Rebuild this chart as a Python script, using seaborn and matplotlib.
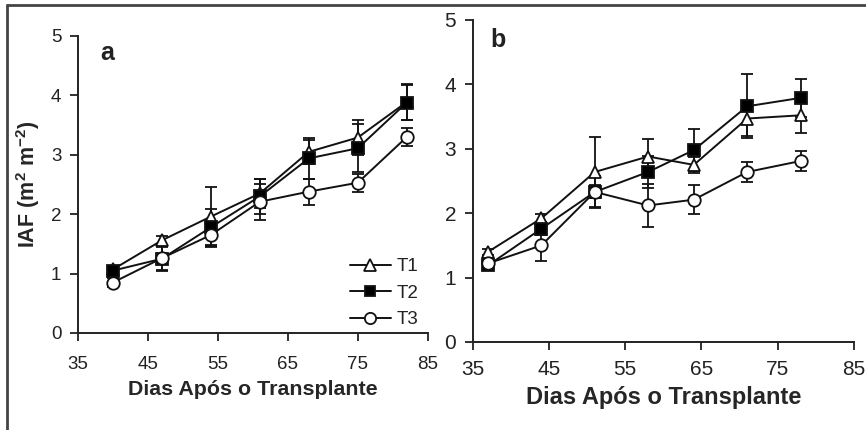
import numpy as np
import pandas as pd
import seaborn as sns
import matplotlib.pyplot as plt
from matplotlib.lines import Line2D

# dados
dias_a = [40, 47, 54, 61, 68, 75, 82]
t1_a = [1.07, 1.56, 1.96, 2.35, 3.05, 3.29, 3.89]
t2_a = [1.05, 1.25, 1.78, 2.30, 2.94, 3.11, 3.88]
t3_a = [0.85, 1.26, 1.65, 2.21, 2.38, 2.53, 3.30]
e1_a = [0.05, 0.08, 0.50, 0.25, 0.20, 0.30, 0.30]
e2_a = [0.08, 0.20, 0.30, 0.30, 0.35, 0.40, 0.30]
e3_a = [0.08, 0.20, 0.20, 0.30, 0.22, 0.15, 0.15]

dias_b = [37, 44, 51, 58, 64, 71, 78]
t1_b = [1.40, 1.92, 2.64, 2.88, 2.75, 3.47, 3.52]
t2_b = [1.19, 1.76, 2.33, 2.64, 2.98, 3.66, 3.79]
t3_b = [1.22, 1.50, 2.33, 2.12, 2.21, 2.64, 2.81]
e1_b = [0.05, 0.06, 0.55, 0.27, 0.13, 0.27, 0.28]
e2_b = [0.06, 0.10, 0.25, 0.25, 0.32, 0.50, 0.30]
e3_b = [0.05, 0.24, 0.10, 0.33, 0.22, 0.16, 0.15]

tratamentos = ["T1", "T2", "T3"]
marcadores = {"T1": "^", "T2": "s", "T3": "o"}
preench = {"T1": "white", "T2": "black", "T3": "white"}

sns.set_style("ticks")
plt.rcParams['font.family'] = ['Liberation Sans', 'DejaVu Sans']
plt.rcParams['mathtext.fontset'] = 'custom'
plt.rcParams['mathtext.rm'] = 'Liberation Sans'
plt.rcParams['mathtext.bf'] = 'Liberation Sans:bold'
plt.rcParams['text.color'] = '#222222'
plt.rcParams['axes.edgecolor'] = '#222222'
plt.rcParams['xtick.color'] = '#222222'
plt.rcParams['ytick.color'] = '#222222'

fig = plt.figure(figsize=(8.66, 4.3), dpi=100)
ax_a = fig.add_axes([0.090, 0.2256, 0.404, 0.6907])
ax_b = fig.add_axes([0.546, 0.2047, 0.440, 0.7488])


def painel(ax, dias, series, erros, fs, fs_lab, xpad, legenda):
    handles = []
    for nome, y, e in zip(tratamentos, series, erros):
        ax.errorbar(dias, y, yerr=e, fmt='none', ecolor='#111111',
                    elinewidth=1.3, capsize=4.5, capthick=1.3, zorder=2)
        sns.lineplot(x=dias, y=y, ax=ax, color='#111111', linewidth=1.4,
                     marker=marcadores[nome], markersize=9 if nome != "T2" else 8,
                     markerfacecolor=preench[nome], markeredgecolor='#111111',
                     markeredgewidth=1.3, label=nome, legend=False, zorder=3)
        handles.append(ax.lines[-1])
    ax.set_xlim(35, 85)
    ax.set_ylim(0, 5)
    ax.set_xticks([35, 45, 55, 65, 75, 85])
    ax.set_yticks([0, 1, 2, 3, 4, 5])
    ax.tick_params(labelsize=fs, width=1.3, length=5.5)
    ax.tick_params(axis='x', pad=xpad)
    ax.tick_params(axis='y', pad=6.5)
    for s in ["left", "bottom"]:
        ax.spines[s].set_linewidth(1.4)
    sns.despine(ax=ax)
    ax.set_xlabel("Dias Após o Transplante", fontsize=fs_lab,
                  fontweight='bold', labelpad=5)
    ax.set_ylabel("")
    if legenda:
        ax.legend(handles=handles, loc='lower right', bbox_to_anchor=(1.0, -0.015),
                  frameon=False, fontsize=13.5, handlelength=2.2,
                  handletextpad=0.3, labelspacing=0.5, borderpad=0,
                  markerscale=0.9)
    return ax


painel(ax_a, dias_a, [t1_a, t2_a, t3_a], [e1_a, e2_a, e3_a], 13.5, 15.4, 11, True)
painel(ax_b, dias_b, [t1_b, t2_b, t3_b], [e1_b, e2_b, e3_b], 15, 17, 7.5, False)

ax_a.text(0.063, 0.919, "a", transform=ax_a.transAxes, fontsize=18,
          fontweight='bold', va='baseline', ha='left')
ax_b.text(0.045, 0.916, "b", transform=ax_b.transAxes, fontsize=18,
          fontweight='bold', va='baseline', ha='left')

ax_a.set_ylabel(r"IAF (m$^\mathbf{2}$ m$^\mathbf{-2}$)", fontsize=15.5,
                fontweight='bold', labelpad=6)

# moldura da figura
fig.add_artist(Line2D([0.008, 1.0], [0.988, 0.988], color='#444444', linewidth=2,
                      transform=fig.transFigure))
fig.add_artist(Line2D([0.008, 0.008], [0.0, 0.988], color='#444444', linewidth=2,
                      transform=fig.transFigure))

fig.savefig("out.png", dpi=100)
